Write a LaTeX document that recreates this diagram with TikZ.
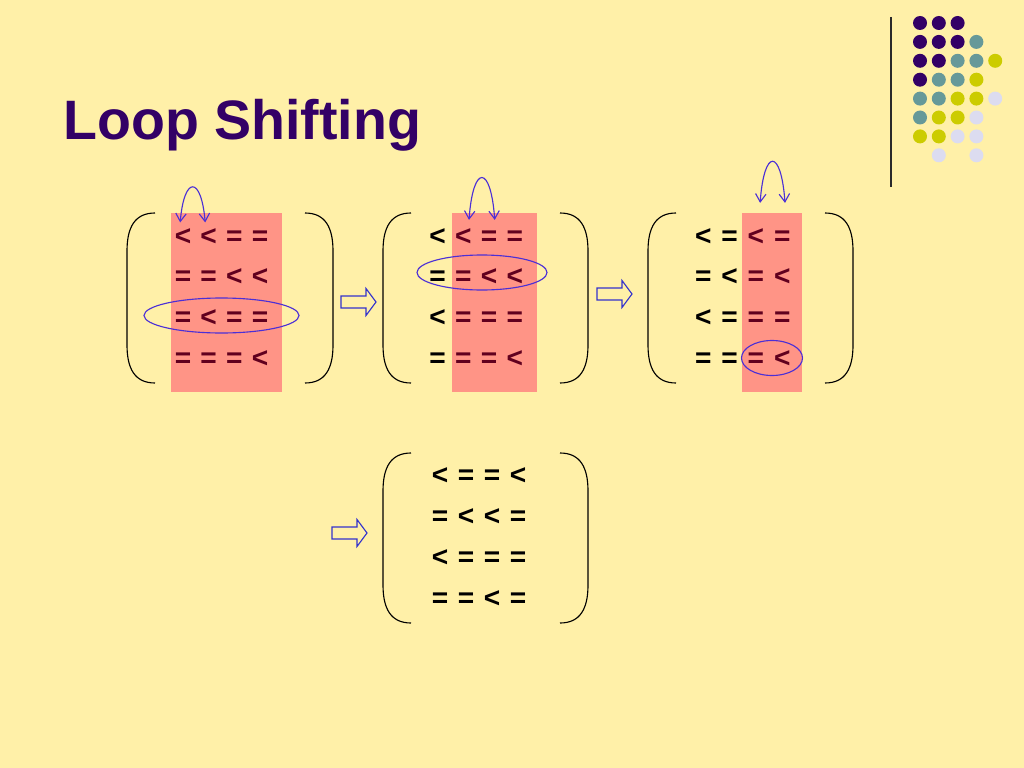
\documentclass[tikz,border=0pt]{standalone}
\usepackage{fontspec}
\setmainfont{Liberation Sans}
\usetikzlibrary{arrows.meta}
\definecolor{paper}{HTML}{FFF0A8}
\definecolor{ink}{HTML}{2A2A2A}
\definecolor{titleink}{HTML}{330066}
\definecolor{markblue}{HTML}{4B2FD6}
\definecolor{arrowblue}{HTML}{3333CC}
\definecolor{hilite}{HTML}{FF0050}
\definecolor{dotpurple}{HTML}{330066}
\definecolor{dotteal}{HTML}{669999}
\definecolor{dotolive}{HTML}{CCCC00}
\definecolor{dotlilac}{HTML}{DCDCF0}
\tikzset{
  entry/.style={inner sep=0pt,text height=10pt,text depth=0pt,font=\fontsize{20}{24}\selectfont\bfseries},
  paren/.style={draw=black,line width=0.8pt},
  swaparr/.style={{Straight Barb[length=2mm,width=2.6mm]}-{Straight Barb[length=2mm,width=2.6mm]},line width=0.8pt,color=markblue},
  ring/.style={draw=markblue,line width=0.8pt},
  hilitebar/.style={fill=hilite,fill opacity=0.38},
  hollowarr/.style={draw=arrowblue,line width=0.8pt,line join=miter}
}

\begin{document}
\begin{tikzpicture}[x=0.025cm,y=-0.025cm]
  \path[use as bounding box,fill=paper] (0,0) rectangle (1024,768);

  % title and corner decoration
  \node[anchor=base west,inner sep=0pt,text=titleink,font=\fontsize{39.5}{47}\selectfont\bfseries] (title) at (63,140) {Loop Shifting};
  \draw[line width=1pt,color=ink] (891,17) -- (891,187);
  \foreach \c/\r/\col in {1/1/dotpurple,2/1/dotpurple,3/1/dotpurple,
      1/2/dotpurple,2/2/dotpurple,3/2/dotpurple,4/2/dotteal,
      1/3/dotpurple,2/3/dotpurple,3/3/dotteal,4/3/dotteal,5/3/dotolive,
      1/4/dotpurple,2/4/dotteal,3/4/dotteal,4/4/dotolive,
      1/5/dotteal,2/5/dotteal,3/5/dotolive,4/5/dotolive,5/5/dotlilac,
      1/6/dotteal,2/6/dotolive,3/6/dotolive,4/6/dotlilac,
      1/7/dotolive,2/7/dotolive,3/7/dotlilac,4/7/dotlilac,
      2/8/dotlilac,4/8/dotlilac}
    \fill[\col] ({920+18.8*(\c-1)},{23+18.9*(\r-1)}) circle [radius=7];

  % the four matrices
  \foreach \r/\row in {1/{<,<,=,=},2/{=,=,<,<},3/{=,<,=,=},4/{=,=,=,<}}
    \foreach \s [count=\c] in \row
      \node[entry] (a-\r-\c) at ({157.3+25.7*\c},{197.5+40.7*\r}) {\s};
  \foreach \r/\row in {1/{<,<,=,=},2/{=,=,<,<},3/{<,=,=,=},4/{=,=,=,<}}
    \foreach \s [count=\c] in \row
      \node[entry] (b-\r-\c) at ({412+25.7*\c},{197.5+40.7*\r}) {\s};
  \foreach \r/\row in {1/{<,=,<,=},2/{=,<,=,<},3/{<,=,=,=},4/{=,=,=,<}}
    \foreach \s [count=\c] in \row
      \node[entry] (c-\r-\c) at ({677+26.3*\c},{197.5+40.7*\r}) {\s};
  \foreach \r/\row in {1/{<,=,=,<},2/{=,<,<,=},3/{<,=,=,=},4/{=,=,<,=}}
    \foreach \s [count=\c] in \row
      \node[entry] (d-\r-\c) at ({414+26*\c},{437+40.8*\r}) {\s};

  % brackets
  \foreach \lx/\rx/\ty in {127/333/213,383/588/213,648/853/213,383/588/453}{
    \draw[paren] (\lx+28,\ty) .. controls (\lx+8,\ty) and (\lx,\ty+14) .. (\lx,\ty+38)
      -- (\lx,\ty+132) .. controls (\lx,\ty+156) and (\lx+8,\ty+170) .. (\lx+28,\ty+170);
    \draw[paren] (\rx-28,\ty) .. controls (\rx-8,\ty) and (\rx,\ty+14) .. (\rx,\ty+38)
      -- (\rx,\ty+132) .. controls (\rx,\ty+156) and (\rx-8,\ty+170) .. (\rx-28,\ty+170);
  }

  % shaded columns
  \fill[hilitebar] (171,213) rectangle (282,392);
  \fill[hilitebar] (452,213) rectangle (537,392);
  \fill[hilitebar] (742,213) rectangle (802,392);

  % marked rows
  \draw[ring] (221.5,315.5) ellipse [x radius=77.5,y radius=17.5];
  \draw[ring] (482,272.5) ellipse [x radius=65,y radius=17.5];
  \draw[ring] (772,358) ellipse [x radius=30.5,y radius=17.5];

  % swapped loops
  \draw[swaparr] ([xshift=-2pt,yshift=6pt]a-1-1.north) .. controls +(4,-47) and +(-4,-47) .. ([xshift=-2.5pt,yshift=6pt]a-1-2.north);
  \draw[swaparr] ([xshift=4pt,yshift=7.8pt]b-1-2.north) .. controls +(4,-56) and +(-4,-56) .. ([xshift=4pt,yshift=7.8pt]b-1-3.north);
  \draw[swaparr] ([xshift=3pt,yshift=19.9pt]c-1-3.north) .. controls +(4,-55) and +(-4,-55) .. ([xshift=2pt,yshift=19.9pt]c-1-4.north);

  % step arrows
  \foreach \ax/\ay in {341/302,597/294,332/533}
    \draw[hollowarr] (\ax,\ay-6) -- (\ax+25,\ay-6) -- (\ax+25,\ay-13.5) -- (\ax+35,\ay)
      -- (\ax+25,\ay+13.5) -- (\ax+25,\ay+6) -- (\ax,\ay+6) -- cycle;
\end{tikzpicture}
\end{document}
